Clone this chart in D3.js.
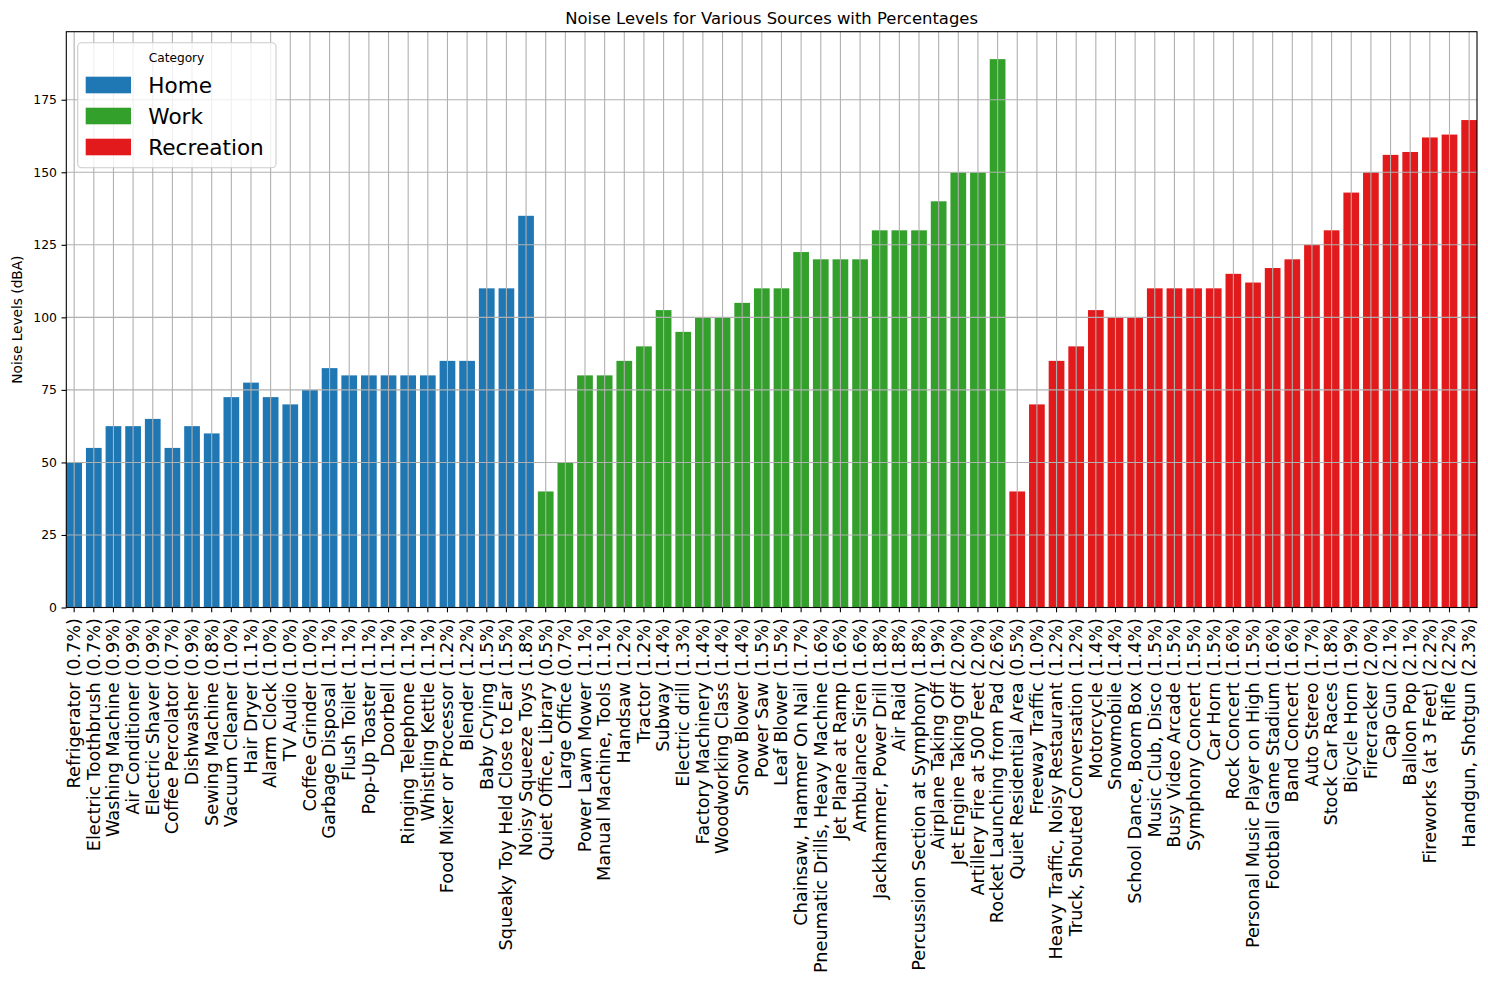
<!DOCTYPE html>
<html>
<head>
<meta charset="utf-8">
<script src="https://cdn.jsdelivr.net/npm/d3@7"></script>
<style>
  html, body { margin: 0; padding: 0; background: #ffffff; }
  svg { display: block; font-family: "DejaVu Sans", sans-serif; }
</style>
</head>
<body>
<svg id="chart" width="1488" height="989"></svg>
<script>
// ---- Data ----
const homeSources = ["Refrigerator","Electric Toothbrush","Washing Machine","Air Conditioner","Electric Shaver","Coffee Percolator","Dishwasher","Sewing Machine","Vacuum Cleaner","Hair Dryer","Alarm Clock","TV Audio","Coffee Grinder","Garbage Disposal","Flush Toilet","Pop-Up Toaster","Doorbell","Ringing Telephone","Whistling Kettle","Food Mixer or Processor","Blender","Baby Crying","Squeaky Toy Held Close to Ear","Noisy Squeeze Toys"];
const homeLevels = [50,55,62.5,62.5,65,55,62.5,60,72.5,77.5,72.5,70,75,82.5,80,80,80,80,80,85,85,110,110,135];
const homePercents = ["0.7","0.7","0.9","0.9","0.9","0.7","0.9","0.8","1.0","1.1","1.0","1.0","1.0","1.1","1.1","1.1","1.1","1.1","1.1","1.2","1.2","1.5","1.5","1.8"];

const workSources = ["Quiet Office, Library","Large Office","Power Lawn Mower","Manual Machine, Tools","Handsaw","Tractor","Subway","Electric drill","Factory Machinery","Woodworking Class","Snow Blower","Power Saw","Leaf Blower","Chainsaw, Hammer On Nail","Pneumatic Drills, Heavy Machine","Jet Plane at Ramp","Ambulance Siren","Jackhammer, Power Drill","Air Raid","Percussion Section at Symphony","Airplane Taking Off","Jet Engine Taking Off","Artillery Fire at 500 Feet","Rocket Launching from Pad"];
const workLevels = [40,50,80,80,85,90,102.5,95,100,100,105,110,110,122.5,120,120,120,130,130,130,140,150,150,189];
const workPercents = ["0.5","0.7","1.1","1.1","1.2","1.2","1.4","1.3","1.4","1.4","1.4","1.5","1.5","1.7","1.6","1.6","1.6","1.8","1.8","1.8","1.9","2.0","2.0","2.6"];

const recSources = ["Quiet Residential Area","Freeway Traffic","Heavy Traffic, Noisy Restaurant","Truck, Shouted Conversation","Motorcycle","Snowmobile","School Dance, Boom Box","Music Club, Disco","Busy Video Arcade","Symphony Concert","Car Horn","Rock Concert","Personal Music Player on High","Football Game Stadium","Band Concert","Auto Stereo","Stock Car Races","Bicycle Horn","Firecracker","Cap Gun","Balloon Pop","Fireworks (at 3 Feet)","Rifle","Handgun, Shotgun"];
const recLevels = [40,70,85,90,102.5,100,100,110,110,110,110,115,112,117,120,125,130,143,150,156,157,162,163,168];
const recPercents = ["0.5","1.0","1.2","1.2","1.4","1.4","1.4","1.5","1.5","1.5","1.5","1.6","1.5","1.6","1.6","1.7","1.8","1.9","2.0","2.1","2.1","2.2","2.2","2.3"];

const categories = ["Home","Work","Recreation"];
const categoryColors = ["#1f78b4","#33a02c","#e31a1c"];
const yTicks = [0,25,50,75,100,125,150,175];

// ---- Build rows ----
const groups = [
  [homeSources, homeLevels, homePercents],
  [workSources, workLevels, workPercents],
  [recSources, recLevels, recPercents]
];
const rows = [];
groups.forEach((g, ci) => {
  g[0].forEach((name, i) => {
    rows.push({ label: `${name} (${g[2][i]}%)`, value: g[1][i], cat: categories[ci] });
  });
});

// ---- Layout ----
const svg = d3.select("#chart");
const L = 66.3, R = 1477, T = 31.7, B = 607.5;
const maxV = d3.max(rows, d => d.value);

const x = d3.scaleBand()
  .domain(rows.map(d => d.label))
  .range([L, R])
  .paddingInner(0.2)
  .paddingOuter(0);
const y = d3.scaleLinear().domain([0, maxV * 1.05]).range([B, T]);
const color = d3.scaleOrdinal().domain(categories).range(categoryColors);

// Bars
svg.append("g").selectAll("rect").data(rows).join("rect")
  .attr("x", d => x(d.label))
  .attr("width", x.bandwidth())
  .attr("y", d => y(d.value))
  .attr("height", d => y(0) - y(d.value))
  .attr("fill", d => color(d.cat));

// Grid (drawn above bars, as in reference)
const grid = svg.append("g").attr("stroke", "#b0b0b0").attr("stroke-width", 1.1);
grid.selectAll("line.v").data(rows).join("line").attr("class","v")
  .attr("x1", d => x(d.label) + x.bandwidth()/2)
  .attr("x2", d => x(d.label) + x.bandwidth()/2)
  .attr("y1", T).attr("y2", B);
grid.selectAll("line.h").data(yTicks).join("line").attr("class","h")
  .attr("x1", L).attr("x2", R)
  .attr("y1", d => y(d)).attr("y2", d => y(d));

// Y axis
const yAxis = d3.axisLeft(y).tickValues(yTicks).tickSize(4.8).tickPadding(4.6);
const gy = svg.append("g").attr("transform", `translate(${L},0)`).call(yAxis);
gy.select(".domain").remove();
gy.selectAll(".tick line").attr("stroke", "#000").attr("stroke-width", 1.1);
gy.selectAll(".tick text").attr("font-size", "12.4px").attr("fill", "#000")
  .attr("font-family", "DejaVu Sans");

// X axis
const xAxis = d3.axisBottom(x).tickSize(4.8).tickPadding(0);
const gx = svg.append("g").attr("transform", `translate(0,${B})`).call(xAxis);
gx.select(".domain").remove();
gx.selectAll(".tick line").attr("stroke", "#000").attr("stroke-width", 1.1);
gx.selectAll(".tick text")
  .attr("font-size", "17.7px").attr("fill", "#000").attr("font-family", "DejaVu Sans")
  .attr("text-anchor", "end")
  .attr("transform", "translate(0,10.5) rotate(-90)")
  .attr("x", 0).attr("y", 0).attr("dy", "0.33em");

// Frame
svg.append("rect").attr("x", L).attr("y", T).attr("width", R - L).attr("height", B - T)
  .attr("fill", "none").attr("stroke", "#000").attr("stroke-width", 1.1);

// Title
svg.append("text").attr("x", (L + R) / 2).attr("y", 24)
  .attr("text-anchor", "middle").attr("font-size", "16.45px").attr("fill", "#000")
  .text("Noise Levels for Various Sources with Percentages");

// Y label
svg.append("text")
  .attr("transform", `translate(16.5,${(T + B) / 2}) rotate(-90)`)
  .attr("text-anchor", "middle").attr("dominant-baseline", "central")
  .attr("font-size", "13.7px").attr("fill", "#000")
  .text("Noise Levels (dBA)");

// Legend
const lg = svg.append("g");
lg.append("rect").attr("x", 77.7).attr("y", 42.7).attr("width", 198.3).attr("height", 125)
  .attr("rx", 4).attr("fill", "#fff").attr("fill-opacity", 0.8)
  .attr("stroke", "#cccccc").attr("stroke-width", 1.1);
lg.append("text").attr("x", 176.5).attr("y", 62).attr("text-anchor", "middle")
  .attr("font-size", "12.2px").attr("fill", "#000").text("Category");
const items = lg.selectAll("g.item").data(categories).join("g").attr("class", "item")
  .attr("transform", (d, i) => `translate(0,${i * 31})`);
items.append("rect").attr("x", 85.7).attr("y", 76.7).attr("width", 45.3).attr("height", 16.6)
  .attr("fill", d => color(d));
items.append("text").attr("x", 148.3).attr("y", 93.3)
  .attr("font-size", "21.6px").attr("fill", "#000").text(d => d);
</script>
</body>
</html>
